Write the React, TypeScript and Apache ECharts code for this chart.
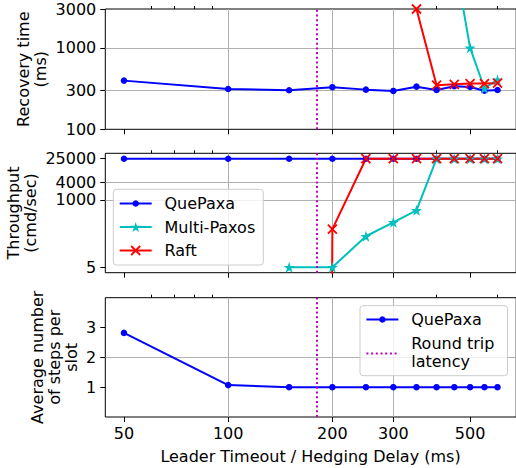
import React, { useEffect, useRef } from "react";
import * as echarts from "echarts";

// ---------------- data ----------------
const xValues = [50, 100, 150, 200, 250, 300, 350, 400, 450, 500, 550, 600];

const quepaxaRecovery = [396, 313, 302, 329, 307, 296, 334, 304, 338, 331, 298, 304];
const multiPaxosRecovery = [null, null, null, null, null, null, null, null, 13000, 1000, 319, 404];
const raftRecovery = [null, null, null, null, null, null, 3000, 348, 357, 364, 364, 368];

const quepaxaThroughput = [25000, 25000, 25000, 25000, 25000, 25000, 25000, 25000, 25000, 25000, 25000, 25000];
const multiPaxosThroughput = [null, null, 5, 5, 57, 170, 435, 25000, 25000, 25000, 25000, 25000];
const raftThroughput = [null, null, 0, 100, 25000, 25000, 25000, 25000, 25000, 25000, 25000, 25000];

const quepaxaSteps = [2.82, 1.07, 1, 1, 1, 1, 1, 1, 1, 1, 1, 1];

const roundTripLatency = 180;

const xTicks = [50, 100, 200, 300, 500];
const xMinorTicks = [60, 70, 80, 90, 400, 600];
const recoveryTicks = [100, 300, 1000, 3000];
const recoveryMinorTicks = [200, 400, 500, 600, 700, 800, 900, 2000];
const throughputTicks = [5, 1000, 4000, 25000];
const stepsTicks = [1, 2, 3];

// ---------------- styling ----------------
const FONT = "DejaVu Sans";
const BLUE = "#0000ff";
const CYAN = "#00bfbf";
const RED = "#ff0000";
const MAGENTA = "#bf00bf";
const GRID_COLOR = "#b0b0b0";
const DOT_DASH = [2, 2.7];

const X_MIN = 44.16;
const X_MAX = 679.4;
// non-positive values on a log axis are clipped to a tiny value (as matplotlib does)
const LOG_FLOOR = 1e-300;

const PLOT_LEFT = 105.3;
const PLOT_WIDTH = 410.9;
const GRIDS = [
  { top: 9, height: 120.3 },
  { top: 153.3, height: 119.4 },
  { top: 297.7, height: 119.3 },
];

function starPts(cx: number, cy: number, r: number) {
  const pts: number[][] = [];
  for (let k = 0; k < 10; k++) {
    const a = -Math.PI / 2 + (k * Math.PI) / 5;
    const rr = k % 2 === 0 ? r : r * 0.382;
    pts.push([cx + rr * Math.cos(a), cy + rr * Math.sin(a)]);
  }
  return pts;
}
const STAR_SYMBOL =
  "path://" +
  starPts(0, 0, 10)
    .map((p, i) => (i ? "L" : "M") + p[0].toFixed(3) + "," + p[1].toFixed(3))
    .join("") +
  "Z";
const X_SYMBOL = "path://M0,0L10,10M10,0L0,10";

function pairs(ys: (number | null)[], log: boolean) {
  const out: number[][] = [];
  xValues.forEach((x, i) => {
    const y = ys[i];
    if (y === null || y === undefined) return;
    out.push([x, log && y <= 0 ? LOG_FLOOR : y]);
  });
  return out;
}

const fmt = (v: number) => String(v);

function xAxesFor(gridIndex: number, showLabels: boolean) {
  return [
    {
      type: "log",
      logBase: 10,
      gridIndex,
      min: X_MIN,
      max: X_MAX,
      axisLine: { show: false },
      axisTick: { show: true, customValues: xTicks, length: 5, lineStyle: { color: "#000", width: 1 } },
      axisLabel: {
        show: showLabels,
        customValues: xTicks,
        formatter: fmt,
        color: "#000",
        fontSize: 16,
        fontFamily: FONT,
        margin: 8,
        hideOverlap: false,
      },
      splitLine: { show: true, showMinLine: false, showMaxLine: false, lineStyle: { color: GRID_COLOR, width: 1 } },
      minorTick: { show: false },
      minorSplitLine: { show: false },
      silent: true,
    },
    {
      type: "log",
      logBase: 10,
      gridIndex,
      min: X_MIN,
      max: X_MAX,
      axisLine: { show: false },
      axisTick: { show: true, customValues: xMinorTicks, length: 3, lineStyle: { color: "#000", width: 1 } },
      axisLabel: { show: false },
      splitLine: { show: false },
      silent: true,
    },
  ];
}

function makeYAxis(gridIndex: number, type: string, min: number, max: number, ticks: number[]) {
  return {
    type,
    gridIndex,
    min,
    max,
    ...(type === "log" ? { logBase: 10 } : {}),
    axisLine: { show: false },
    axisTick: { show: true, customValues: ticks, length: 5, lineStyle: { color: "#000", width: 1 } },
    axisLabel: {
      show: true,
      customValues: ticks,
      formatter: fmt,
      color: "#000",
      fontSize: 16,
      fontFamily: FONT,
      margin: 9,
      hideOverlap: false,
      showMinLabel: true,
      showMaxLabel: true,
    },
    splitLine: { show: true, showMinLine: false, showMaxLine: false, lineStyle: { color: GRID_COLOR, width: 1 } },
    minorTick: { show: false },
    minorSplitLine: { show: false },
    silent: true,
  };
}

function lineSeries(name: string, data: number[][], xi: number, yi: number, kind: "q" | "m" | "r") {
  const base: any = {
    name,
    type: "line",
    xAxisIndex: xi,
    yAxisIndex: yi,
    data,
    showSymbol: true,
    clip: true,
    silent: true,
    emphasis: { disabled: true },
    lineStyle: { width: 2 },
  };
  if (kind === "q") {
    base.color = BLUE;
    base.symbol = "circle";
    base.symbolSize = 6.5;
    base.itemStyle = { color: BLUE };
    base.lineStyle.color = BLUE;
  } else if (kind === "m") {
    base.color = CYAN;
    base.symbol = STAR_SYMBOL;
    base.symbolSize = 11;
    base.itemStyle = { color: CYAN };
    base.lineStyle.color = CYAN;
  } else {
    base.color = RED;
    base.symbol = X_SYMBOL;
    base.symbolSize = 9;
    base.itemStyle = { color: RED, borderColor: RED, borderWidth: 1.8 };
    base.lineStyle.color = RED;
  }
  return base;
}

function vline(xi: number, yi: number) {
  return {
    name: "Round trip latency",
    type: "line",
    xAxisIndex: xi,
    yAxisIndex: yi,
    data: [],
    silent: true,
    z: 5,
    markLine: {
      silent: true,
      symbol: ["none", "none"],
      label: { show: false },
      animation: false,
      lineStyle: { color: MAGENTA, width: 2, type: DOT_DASH },
      emphasis: { disabled: true },
      data: [{ xAxis: roundTripLatency }],
    },
  };
}

function legendGraphics() {
  const els: any[] = [];
  const textStyle = { fontSize: 16, fontFamily: FONT, fill: "#000" };
  // middle panel legend
  els.push({
    type: "rect",
    shape: { x: 113.3, y: 189.3, width: 150, height: 75.7, r: 3 },
    style: { fill: "rgba(255,255,255,0.8)", stroke: "#cccccc", lineWidth: 1 },
    z: 100,
  });
  const hx1 = 119.7, hx2 = 151.7, hc = (hx1 + hx2) / 2, tx = 164.5;
  const rows = [203.5, 227, 250.5];
  const names = ["QuePaxa", "Multi-Paxos", "Raft"];
  const colors = [BLUE, CYAN, RED];
  rows.forEach((y, i) => {
    els.push({ type: "line", shape: { x1: hx1, y1: y, x2: hx2, y2: y }, style: { stroke: colors[i], lineWidth: 2 }, z: 101 });
    if (i === 0) els.push({ type: "circle", shape: { cx: hc, cy: y, r: 3.25 }, style: { fill: BLUE }, z: 102 });
    if (i === 1) els.push({ type: "polygon", shape: { points: starPts(hc, y + 0.5, 5.6) }, style: { fill: CYAN }, z: 102 });
    if (i === 2) {
      els.push({ type: "line", shape: { x1: hc - 4.5, y1: y - 4.5, x2: hc + 4.5, y2: y + 4.5 }, style: { stroke: RED, lineWidth: 1.8 }, z: 102 });
      els.push({ type: "line", shape: { x1: hc - 4.5, y1: y + 4.5, x2: hc + 4.5, y2: y - 4.5 }, style: { stroke: RED, lineWidth: 1.8 }, z: 102 });
    }
    els.push({ type: "text", x: tx, y, style: { ...textStyle, text: names[i], verticalAlign: "middle", align: "left" }, z: 102 });
  });

  // bottom panel legend
  els.push({
    type: "rect",
    shape: { x: 360, y: 305.7, width: 147.5, height: 70, r: 3 },
    style: { fill: "rgba(255,255,255,0.8)", stroke: "#cccccc", lineWidth: 1 },
    z: 100,
  });
  const bx1 = 366.4, bx2 = 398.4, bc = (bx1 + bx2) / 2, btx = 411.2;
  els.push({ type: "line", shape: { x1: bx1, y1: 319.5, x2: bx2, y2: 319.5 }, style: { stroke: BLUE, lineWidth: 2 }, z: 101 });
  els.push({ type: "circle", shape: { cx: bc, cy: 319.5, r: 3.25 }, style: { fill: BLUE }, z: 102 });
  els.push({ type: "text", x: btx, y: 319.5, style: { ...textStyle, text: "QuePaxa", verticalAlign: "middle", align: "left" }, z: 102 });
  els.push({
    type: "line",
    shape: { x1: bx1, y1: 353.5, x2: bx2, y2: 353.5 },
    style: { stroke: MAGENTA, lineWidth: 2, lineDash: DOT_DASH },
    z: 101,
  });
  els.push({
    type: "text",
    x: btx,
    y: 352,
    style: { ...textStyle, text: "Round trip\nlatency", lineHeight: 18, verticalAlign: "middle", align: "left" },
    z: 102,
  });
  return els;
}

function axisNameGraphics() {
  const st = { fontSize: 16, fontFamily: FONT, fill: "#000", align: "center", verticalAlign: "middle", lineHeight: 17 };
  return [
    { type: "text", x: 32, y: 69.2, rotation: Math.PI / 2, style: { ...st, text: "Recovery time\n(ms)" } },
    { type: "text", x: 21.5, y: 213, rotation: Math.PI / 2, style: { ...st, text: "Throughput\n(cmd/sec)" } },
    { type: "text", x: 54, y: 357.3, rotation: Math.PI / 2, style: { ...st, text: "Average number\nof steps per\nslot" } },
    { type: "text", x: 310.5, y: 456.5, style: { ...st, text: "Leader Timeout / Hedging Delay (ms)" } },
  ];
}

function buildOption() {
  const grid = GRIDS.map((g) => ({
    left: PLOT_LEFT,
    top: g.top,
    width: PLOT_WIDTH,
    height: g.height,
    show: true,
    borderColor: "#000",
    borderWidth: 1,
    backgroundColor: "transparent",
    containLabel: false,
    outerBoundsMode: "none",
  }));
  const xAxisList = [...xAxesFor(0, false), ...xAxesFor(1, false), ...xAxesFor(2, true)];
  const minorY = {
    type: "log",
    logBase: 10,
    gridIndex: 0,
    min: 100,
    max: 3000,
    axisLine: { show: false },
    axisTick: { show: true, customValues: recoveryMinorTicks, length: 3, lineStyle: { color: "#000", width: 1 } },
    axisLabel: { show: false },
    splitLine: { show: false },
    silent: true,
  };
  const yAxisList = [
    makeYAxis(0, "log", 100, 3000, recoveryTicks),
    minorY,
    makeYAxis(1, "log", 3.266, 38276, throughputTicks),
    makeYAxis(2, "value", 0, 4, stepsTicks),
  ];
  const series = [
    lineSeries("QuePaxa", pairs(quepaxaRecovery, true), 0, 0, "q"),
    lineSeries("Multi-Paxos", pairs(multiPaxosRecovery, true), 0, 0, "m"),
    lineSeries("Raft", pairs(raftRecovery, true), 0, 0, "r"),
    vline(0, 0),
    lineSeries("QuePaxa", pairs(quepaxaThroughput, true), 2, 2, "q"),
    lineSeries("Multi-Paxos", pairs(multiPaxosThroughput, true), 2, 2, "m"),
    lineSeries("Raft", pairs(raftThroughput, true), 2, 2, "r"),
    vline(2, 2),
    lineSeries("QuePaxa", pairs(quepaxaSteps, false), 4, 3, "q"),
    vline(4, 3),
  ];
  return {
    animation: false,
    backgroundColor: "#ffffff",
    textStyle: { fontFamily: FONT },
    grid,
    xAxis: xAxisList,
    yAxis: yAxisList,
    series,
    graphic: [...axisNameGraphics(), ...legendGraphics()],
  };
}

export default function App() {
  const ref = useRef<HTMLDivElement>(null);
  useEffect(() => {
    if (!ref.current) return;
    const chart = echarts.init(ref.current, null, { renderer: "svg" });
    chart.setOption(buildOption() as any);
    return () => chart.dispose();
  }, []);
  return (
    <div
      ref={ref}
      style={{ position: "absolute", left: 0, top: 0, width: 516, height: 468, background: "#fff" }}
    />
  );
}
